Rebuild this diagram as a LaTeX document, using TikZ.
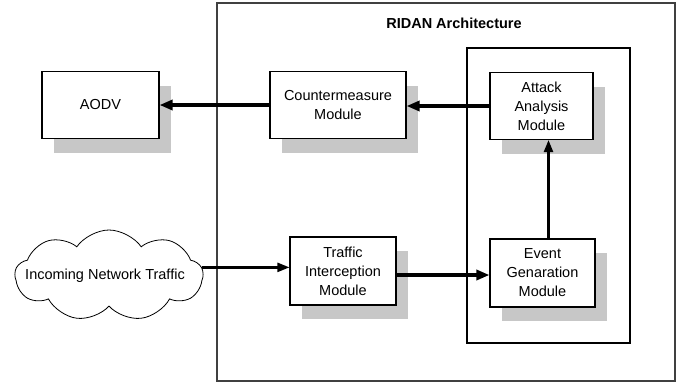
\documentclass[tikz,border=0pt]{standalone}
\usepackage{fontspec}
\setmainfont{Liberation Sans}
\usetikzlibrary{arrows.meta,shapes.symbols,shadows,positioning}
\tikzset{
  txt/.style={font=\fontsize{14.5pt}{19pt}\selectfont},
  module/.style={txt, draw, line width=1.1pt, fill=white, align=center,
    minimum height=67pt, inner sep=2pt,
    drop shadow={shadow xshift=12pt, shadow yshift=-14pt, opacity=1, fill=black!22}},
  fat arrow/.style={line width=3.2pt, -{Triangle[length=13pt,width=10pt]}},
  thin arrow/.style={line width=2.3pt, -{Triangle[length=12pt,width=9pt]}},
}
\begin{document}
\begin{tikzpicture}[x=1pt,y=-1pt]
\useasboundingbox (0,0) rectangle (678,383);
% frames
\draw[line width=1.1pt, black!75] (217,3) rectangle (675,381);
\draw[line width=1.1pt] (467,48) rectangle (630,343);
\node[txt, font=\fontsize{14.5pt}{19pt}\selectfont\bfseries] (title) at (454,23) {RIDAN Architecture};
% modules
\node[module, minimum width=117pt] (aodv) at (100.5,105) {AODV};
\node[module, minimum width=136pt] (counter) at (338,105) {Countermeasure\\Module};
\node[module, minimum width=103pt] (attack) at (541.5,106) {Attack\\Analysis\\Module};
\node[module, minimum width=106pt, minimum height=68pt] (traffic) at (343,271) {Traffic\\Interception\\Module};
\node[module, minimum width=105pt, minimum height=68pt] (event) at (542.5,273) {Event\\Genaration\\Module};
% cloud
\node[cloud, draw, line width=0.8pt, cloud puffs=9, cloud puff arc=110, cloud ignores aspect,
  minimum width=188pt, minimum height=91pt] (cloud) at (109,275.5) {};
\node[txt] (cloudtext) at (105,276) {Incoming Network Traffic};
% arrows
\draw[fat arrow] (counter) -- (aodv);
\draw[fat arrow] (attack.west) -- (attack.west -| counter.east);
\draw[thin arrow] (cloud.5) -- (cloud.5 -| traffic.west);
\draw[fat arrow] ([yshift=-4pt]traffic.east) -- ([yshift=-4pt]traffic.east -| event.west);
\draw[thin arrow] ([xshift=6pt]event.north) -- ([xshift=6pt]event.north |- attack.south);
\end{tikzpicture}
\end{document}
